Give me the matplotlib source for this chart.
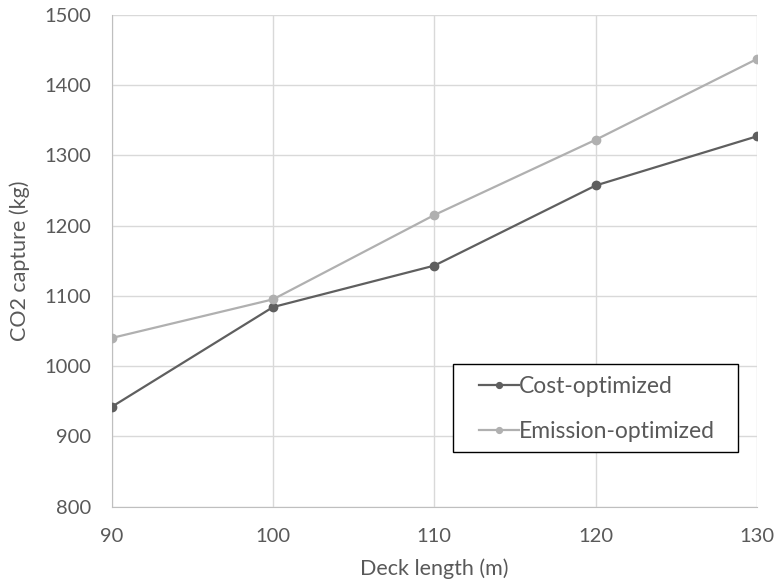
import matplotlib
matplotlib.use("Agg")
import matplotlib.pyplot as plt
from matplotlib.patches import Rectangle

deck_length = [90, 100, 110, 120, 130]
cost_optimized = [942, 1084, 1143, 1257, 1327]
emission_optimized = [1040, 1095, 1215, 1322, 1437]

plt.rcParams['font.family'] = ['Lato', 'DejaVu Sans']
text_col = '#595959'

fig = plt.figure(figsize=(7.75, 5.83), dpi=100)
ax = fig.add_axes([0.1441, 0.1309, 0.8327, 0.8439])

ax.plot(deck_length, cost_optimized, color='#5f5f5f', marker='o', markersize=6,
        linewidth=1.6, label='Cost-optimized', zorder=3)
ax.plot(deck_length, emission_optimized, color='#b0b0b0', marker='o', markersize=6,
        linewidth=1.6, label='Emission-optimized', zorder=3)

ax.set_xlim(90, 130)
ax.set_ylim(800, 1500)
ax.set_xticks([90, 100, 110, 120, 130])
ax.set_yticks(range(800, 1501, 100))
ax.grid(True, color='#d9d9d9', linewidth=1)
ax.set_axisbelow(True)
for s in ['top', 'right']:
    ax.spines[s].set_visible(False)
for s in ['left', 'bottom']:
    ax.spines[s].set_color('#bfbfbf')
ax.tick_params(length=0, labelsize=14.5, colors=text_col)
ax.tick_params(axis='x', pad=15)
ax.tick_params(axis='y', pad=15)

ax.set_xlabel('Deck length (m)', fontsize=15.5, color=text_col, labelpad=10)
ax.set_ylabel('CO2 capture (kg)', fontsize=15.5, color=text_col, labelpad=10)

# legend box (Excel style, wider than its content)
box = Rectangle((0.529, 0.1106), 0.441, 0.179, transform=ax.transAxes,
                facecolor='white', edgecolor='black', linewidth=1, zorder=4)
ax.add_patch(box)

leg = ax.legend(loc='upper left', bbox_to_anchor=(0.569, 0.265), fontsize=16.5,
                frameon=False, borderaxespad=0, borderpad=0, handlelength=1.75,
                handletextpad=0.0, labelspacing=1.02,
                labelcolor=text_col, markerscale=0.7)
leg.set_zorder(5)

plt.savefig('out.png', dpi=100)
